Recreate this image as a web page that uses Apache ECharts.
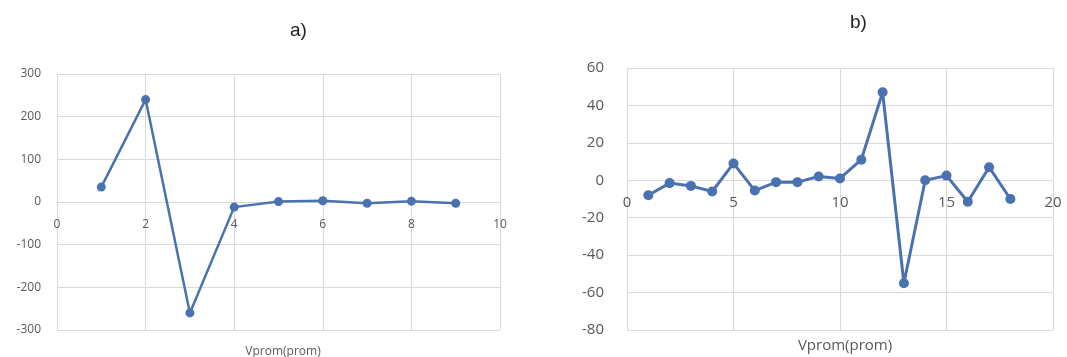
<!DOCTYPE html>
<html><head><meta charset="utf-8">
<script src="https://cdn.jsdelivr.net/npm/echarts@6/dist/echarts.min.js"></script>
<style>html,body{margin:0;padding:0;background:#fff}#c{width:1067px;height:357px}</style>
</head><body><div id="c"></div>
<script>
const xA = [1,2,3,4,5,6,7,8,9];
const yA = [35,240,-260,-12,1,3,-3,2,-3];
const xB = [1,2,3,4,5,6,7,8,9,10,11,12,13,14,15,16,17,18];
const yB = [-8,-1.5,-3,-6,9,-5.5,-1,-1,2,1,11,47,-55,0,2.5,-11.5,7,-10];
const titles = ['a)','b)'];
const axisName = 'Vprom(prom)';

const lineColor = '#4a72b0';
const gridColor = '#d9d9d9';
const labelColor = '#595959';
const chart = echarts.init(document.getElementById('c'));
const grids = [
  {left:57, top:74, width:443, height:256},
  {left:627, top:68, width:426, height:262}
];
const yRanges = [[-300,300,100],[-80,60,20]];
function zeroOffset(i){
  const [mn,mx] = yRanges[i];
  return -grids[i].height * (0 - mn) / (mx - mn);
}
function xAx(idx, max, interval, fs, margin){
  return {type:'value', gridIndex:idx, min:0, max:max, interval:interval, offset:zeroOffset(idx),
    axisLine:{show:true, onZero:false, lineStyle:{color:gridColor}}, axisTick:{show:false},
    axisLabel:{color:labelColor, fontSize:fs, fontFamily:'Open Sans', margin:margin},
    splitLine:{show:true, lineStyle:{color:gridColor}}};
}
function yAx(idx, fs, margin){
  const [mn,mx,iv] = yRanges[idx];
  return {type:'value', gridIndex:idx, min:mn, max:mx, interval:iv,
    axisLine:{show:false, onZero:false}, axisTick:{show:false},
    axisLabel:{color:labelColor, fontSize:fs, fontFamily:'Open Sans', margin:margin},
    splitLine:{show:true, lineStyle:{color:gridColor}}};
}
chart.setOption({
  animation:false,
  title:[
    {text:titles[0], left:285, top:16, textStyle:{fontSize:19, fontWeight:'normal', color:'#222', fontFamily:'Liberation Sans'}},
    {text:titles[1], left:845, top:8, textStyle:{fontSize:19, fontWeight:'normal', color:'#222', fontFamily:'Liberation Sans'}},
    {text:axisName, left:278, top:341, textAlign:'center', textStyle:{fontSize:12, fontWeight:'normal', color:labelColor, fontFamily:'Open Sans'}},
    {text:axisName, left:840, top:333, textAlign:'center', textStyle:{fontSize:15, fontWeight:'normal', color:labelColor, fontFamily:'Open Sans'}}
  ],
  grid:grids,
  xAxis:[xAx(0,10,2,12,17), xAx(1,20,5,15,15)],
  yAxis:[yAx(0,12,16), yAx(1,15,23)],
  series:[
    {type:'line', xAxisIndex:0, yAxisIndex:0, data:xA.map((x,i)=>[x,yA[i]]),
     symbol:'circle', symbolSize:9, lineStyle:{color:lineColor, width:2.5}, itemStyle:{color:lineColor}},
    {type:'line', xAxisIndex:1, yAxisIndex:1, data:xB.map((x,i)=>[x,yB[i]]),
     symbol:'circle', symbolSize:10, lineStyle:{color:lineColor, width:3}, itemStyle:{color:lineColor}}
  ]
});
</script></body></html>
